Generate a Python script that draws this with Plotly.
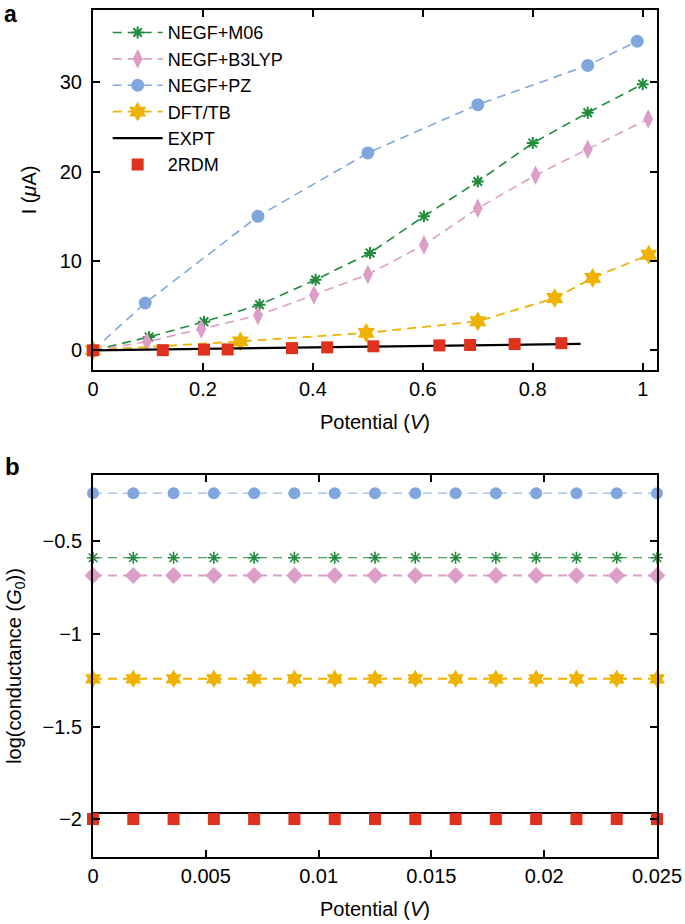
import plotly.graph_objects as go

# ---------------- Panel a data ----------------
m06_x = [0, 0.102, 0.202, 0.303, 0.405, 0.504, 0.602, 0.70, 0.80, 0.90, 1.0]
m06_y = [0, 1.5, 3.2, 5.1, 7.9, 10.9, 15.0, 18.9, 23.2, 26.6, 29.8]

b3_x = [0, 0.098, 0.197, 0.30, 0.402, 0.50, 0.602, 0.70, 0.805, 0.90, 1.01]
b3_y = [0, 0.95, 2.4, 3.9, 6.2, 8.5, 11.8, 15.9, 19.6, 22.5, 25.9]

pz_x = [0, 0.095, 0.30, 0.50, 0.70, 0.90, 0.99]
pz_y = [0, 5.3, 15.0, 22.1, 27.5, 31.9, 34.6]

tb_x = [0, 0.268, 0.497, 0.70, 0.84, 0.909, 1.011]
tb_y = [0, 1.0, 1.95, 3.25, 5.85, 8.1, 10.7]

expt_x = [0, 0.887]
expt_y = [0, 0.72]

rdm_x = [0, 0.127, 0.202, 0.245, 0.362, 0.426, 0.51, 0.63, 0.686, 0.767, 0.852]
rdm_y = [0, 0.02, 0.08, 0.1, 0.25, 0.33, 0.45, 0.55, 0.6, 0.7, 0.8]

# ---------------- Panel b data ----------------
pot_b = [0, 0.0017857, 0.0035714, 0.0053571, 0.0071429, 0.0089286, 0.0107143,
         0.0125, 0.0142857, 0.0160714, 0.0178571, 0.0196429, 0.0214286,
         0.0232143, 0.025]
g_m06 = [-0.588, -0.588, -0.588, -0.588, -0.588, -0.588, -0.588, -0.588,
         -0.588, -0.588, -0.588, -0.588, -0.588, -0.588, -0.588]
g_b3 = [-0.684, -0.684, -0.684, -0.684, -0.684, -0.684, -0.684, -0.684,
        -0.684, -0.684, -0.684, -0.684, -0.684, -0.684, -0.684]
g_pz = [-0.239, -0.239, -0.239, -0.239, -0.239, -0.239, -0.239, -0.239,
        -0.239, -0.239, -0.239, -0.239, -0.239, -0.239, -0.239]
g_tb = [-1.242, -1.242, -1.242, -1.242, -1.242, -1.242, -1.242, -1.242,
        -1.242, -1.242, -1.242, -1.242, -1.242, -1.242, -1.242]
g_rdm = [-2.0, -2.0, -2.0, -2.0, -2.0, -2.0, -2.0, -2.0,
         -2.0, -2.0, -2.0, -2.0, -2.0, -2.0, -2.0]
g_expt_x = [0, 0.025]
g_expt_y = [-1.967, -1.967]

# tick labels
xa_ticks = [0, 0.2, 0.4, 0.6, 0.8, 1.0]
xa_text = ["0", "0.2", "0.4", "0.6", "0.8", "1"]
ya_ticks = [0, 10, 20, 30]
ya_text = ["0", "10", "20", "30"]
xb_ticks = [0, 0.005, 0.01, 0.015, 0.02, 0.025]
xb_text = ["0", "0.005", "0.01", "0.015", "0.02", "0.025"]
yb_ticks = [-2, -1.5, -1, -0.5]
yb_text = ["\u22122", "\u22121.5", "\u22121", "\u22120.5"]

GREEN = "#1f8b3b"
PINK = "#dc9ec6"
BLUE = "#80a7dd"
YELLOW = "#f0b200"
RED = "#e0301e"

FONT = "Liberation Sans, Arial, Helvetica, sans-serif"
FS = 20
DASH = "9px,6px"

fig = go.Figure()

# ---- Panel a ----
fig.add_trace(go.Scatter(x=m06_x, y=m06_y, name="NEGF+M06", mode="lines+markers",
                         line=dict(color=GREEN, width=1.6, dash=DASH),
                         marker=dict(symbol="asterisk-open", size=10, color=GREEN,
                                     line=dict(color=GREEN, width=2)),
                         cliponaxis=False, xaxis="x", yaxis="y"))
fig.add_trace(go.Scatter(x=b3_x, y=b3_y, name="NEGF+B3LYP", mode="lines+markers",
                         line=dict(color=PINK, width=1.6, dash=DASH),
                         marker=dict(symbol="diamond-tall", size=14, color=PINK),
                         cliponaxis=False, xaxis="x", yaxis="y"))
fig.add_trace(go.Scatter(x=pz_x, y=pz_y, name="NEGF+PZ", mode="lines+markers",
                         line=dict(color=BLUE, width=1.6, dash=DASH),
                         marker=dict(symbol="circle", size=13, color=BLUE),
                         cliponaxis=False, xaxis="x", yaxis="y"))
fig.add_trace(go.Scatter(x=tb_x, y=tb_y, name="DFT/TB", mode="lines+markers",
                         line=dict(color=YELLOW, width=1.8, dash=DASH),
                         marker=dict(symbol="hexagram", size=15, color=YELLOW),
                         cliponaxis=False, xaxis="x", yaxis="y"))
fig.add_trace(go.Scatter(x=expt_x, y=expt_y, name="EXPT", mode="lines",
                         line=dict(color="black", width=2.2),
                         cliponaxis=False, xaxis="x", yaxis="y"))
fig.add_trace(go.Scatter(x=rdm_x, y=rdm_y, name="2RDM", mode="markers",
                         marker=dict(symbol="square", size=12, color=RED),
                         cliponaxis=False, xaxis="x", yaxis="y"))

# ---- Panel b ----
fig.add_trace(go.Scatter(x=pot_b, y=g_pz, mode="lines+markers", showlegend=False,
                         line=dict(color=BLUE, width=1, dash=DASH),
                         marker=dict(symbol="circle", size=12, color=BLUE),
                         cliponaxis=False, xaxis="x2", yaxis="y2"))
fig.add_trace(go.Scatter(x=pot_b, y=g_m06, mode="lines+markers", showlegend=False,
                         line=dict(color=GREEN, width=1, dash=DASH),
                         marker=dict(symbol="asterisk-open", size=10, color=GREEN,
                                     line=dict(color=GREEN, width=1.6)),
                         cliponaxis=False, xaxis="x2", yaxis="y2"))
fig.add_trace(go.Scatter(x=pot_b, y=g_b3, mode="lines+markers", showlegend=False,
                         line=dict(color=PINK, width=2, dash=DASH),
                         marker=dict(symbol="diamond", size=13, color=PINK),
                         cliponaxis=False, xaxis="x2", yaxis="y2"))
fig.add_trace(go.Scatter(x=pot_b, y=g_tb, mode="lines+markers", showlegend=False,
                         line=dict(color=YELLOW, width=1.8, dash=DASH),
                         marker=dict(symbol="hexagram", size=14, color=YELLOW),
                         cliponaxis=False, xaxis="x2", yaxis="y2"))
fig.add_trace(go.Scatter(x=g_expt_x, y=g_expt_y, mode="lines", showlegend=False,
                         line=dict(color="black", width=2),
                         cliponaxis=False, xaxis="x2", yaxis="y2"))
fig.add_trace(go.Scatter(x=pot_b, y=g_rdm, mode="markers", showlegend=False,
                         marker=dict(symbol="square", size=12, color=RED),
                         cliponaxis=False, xaxis="x2", yaxis="y2"))

axis_common = dict(showline=True, linecolor="black", linewidth=2, mirror="ticks",
                   ticks="inside", ticklen=7, tickwidth=2, tickcolor="black",
                   showgrid=False, zeroline=False, automargin=False,
                   tickfont=dict(family=FONT, size=FS, color="black"))

fig.update_layout(
    width=685, height=924,
    paper_bgcolor="white", plot_bgcolor="white",
    margin=dict(l=93, r=28, t=10, b=67),
    font=dict(family=FONT, size=FS, color="black"),
    xaxis=dict(domain=[0, 1], range=[0, 1.026], tickvals=xa_ticks, ticktext=xa_text,
               anchor="y",
               title=dict(text="Potential (<i>V</i>)", standoff=16,
                          font=dict(family=FONT, size=FS)),
               **axis_common),
    yaxis=dict(domain=[0.575, 1], range=[-2.2, 38.1], tickvals=ya_ticks, ticktext=ya_text,
               anchor="x", ticklabelstandoff=5,
               title=dict(text="I (<i>\u03bc</i>A)", standoff=18,
                          font=dict(family=FONT, size=FS)),
               **axis_common),
    xaxis2=dict(domain=[0, 1], range=[0, 0.025], tickvals=xb_ticks, ticktext=xb_text,
                anchor="y2",
                title=dict(text="Potential (<i>V</i>)", standoff=16,
                           font=dict(family=FONT, size=FS)),
                **axis_common),
    yaxis2=dict(domain=[0, 0.451], range=[-2.205, -0.141], tickvals=yb_ticks, ticktext=yb_text,
                anchor="x2", ticklabelstandoff=5,
                title=dict(text="log(conductance (<i>G</i><sub>0</sub>))", standoff=16,
                           font=dict(family=FONT, size=FS)),
                **axis_common),
    legend=dict(x=0.026, y=0.995, xanchor="left", yanchor="top",
                bgcolor="rgba(0,0,0,0)", font=dict(family=FONT, size=18, color="black"),
                itemwidth=50, tracegroupgap=0),
    annotations=[
        dict(text="<b>a</b>", x=-0.159, y=1.0118, xref="paper", yref="paper",
             xanchor="left", yanchor="top", showarrow=False, borderpad=0,
             font=dict(family=FONT, size=23, color="black")),
        dict(text="<b>b</b>", x=-0.159, y=0.4616, xref="paper", yref="paper",
             xanchor="left", yanchor="middle", showarrow=False,
             font=dict(family=FONT, size=24, color="black")),
    ],
)

fig.write_html("out.html",
               config={"displayModeBar": False},
               post_script="document.body.style.margin='0';document.body.style.padding='0';")
